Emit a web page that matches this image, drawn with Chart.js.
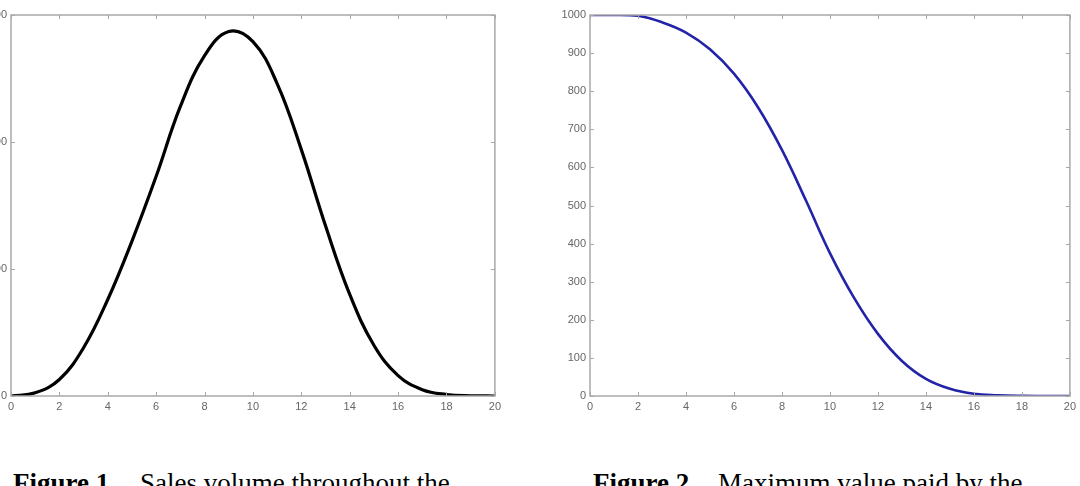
<!DOCTYPE html>
<html>
<head>
<meta charset="utf-8">
<script src="https://cdn.jsdelivr.net/npm/chart.js@4.4.1/dist/chart.umd.min.js"></script>
<style>
  html, body { margin:0; padding:0; background:#fff; width:1080px; height:486px; overflow:hidden; position:relative; }
  canvas { position:absolute; top:0; }
  .cap { position:absolute; font-family:"Liberation Serif","Times New Roman",serif; font-size:27px; line-height:30px; color:#000; white-space:pre; }
  .cap b { font-weight:bold; }
</style>
</head>
<body>
<canvas id="c1" width="545" height="425" style="left:-40px"></canvas>
<canvas id="c2" width="540" height="425" style="left:540px"></canvas>
<div class="cap" style="left:13px; top:468px;"><b>Figure 1</b></div>
<div class="cap" style="left:140px; top:468px;">Sales volume throughout the</div>
<div class="cap" style="left:593px; top:468px;"><b>Figure 2</b></div>
<div class="cap" style="left:718px; top:468px;">Maximum value paid by the</div>
<script>
// ---- data ----
const xValues = [0,1,2,3,4,5,6,7,8,9,10,11,12,13,14,15,16,17,18,19,20];
const salesVolume = [0,2.5,13,38,76,122,173,228,268,287,279,246,194,134,80,40,16,5,1.2,0.2,0];
const maxValuePaid = [1000,1000,998,981,954,910,846,758,646,513,375,258,163,92,45,19,6,2,0.5,0,0];
const xTicks = [0,2,4,6,8,10,12,14,16,18,20];
const yTicksLeft = [0,100,200,300];
const yTicksRight = [0,100,200,300,400,500,600,700,800,900,1000];

const FRAME = '#a9a9a9';
const LABEL = '#666';

const framePlugin = {
  id: 'matlabFrame',
  afterDraw(chart) {
    const ctx = chart.ctx, a = chart.chartArea;
    const xs = chart.scales.x, ys = chart.scales.y;
    ctx.save();
    ctx.strokeStyle = FRAME;
    ctx.lineWidth = 1.5;
    ctx.strokeRect(a.left, a.top, a.right - a.left, a.bottom - a.top);
    ctx.lineWidth = 1;
    const L = 4;
    ctx.beginPath();
    xs.ticks.forEach(t => {
      const p = Math.round(xs.getPixelForValue(t.value)) + 0.5;
      ctx.moveTo(p, a.bottom); ctx.lineTo(p, a.bottom - L);
      ctx.moveTo(p, a.top); ctx.lineTo(p, a.top + L);
    });
    ys.ticks.forEach(t => {
      const p = Math.round(ys.getPixelForValue(t.value)) + 0.5;
      ctx.moveTo(a.left, p); ctx.lineTo(a.left + L, p);
      ctx.moveTo(a.right, p); ctx.lineTo(a.right - L, p);
    });
    ctx.stroke();
    ctx.restore();
  }
};

function makeChart(id, values, color, width, yTicks, yMax, yAxisWidth, padRight) {
  const pts = xValues.map((x, i) => ({x, y: values[i]}));
  return new Chart(document.getElementById(id), {
    type: 'line',
    data: { datasets: [{ data: pts, borderColor: color, borderWidth: width, pointRadius: 0, fill: false, tension: 0.4, cubicInterpolationMode: 'default' }] },
    options: {
      responsive: false, animation: false, devicePixelRatio: 1,
      layout: { padding: { top: 15, right: padRight, left: 0, bottom: 0 } },
      plugins: { legend: { display: false }, tooltip: { enabled: false } },
      scales: {
        x: {
          type: 'linear', min: 0, max: 20,
          grid: { display: false, drawTicks: false, tickLength: 0 }, border: { display: false },
          afterBuildTicks: s => { s.ticks = xTicks.map(v => ({value: v})); },
          afterFit: s => { s.height = 29; },
          ticks: { color: LABEL, padding: 4, font: { family: 'Liberation Sans, Arial', size: 11 }, maxRotation: 0, autoSkip: false, callback: v => String(v) }
        },
        y: {
          type: 'linear', min: 0, max: yMax,
          grid: { display: false, drawTicks: false, tickLength: 0 }, border: { display: false },
          afterBuildTicks: s => { s.ticks = yTicks.map(v => ({value: v})); },
          afterFit: s => { s.width = yAxisWidth; },
          ticks: { color: LABEL, padding: 4, font: { family: 'Liberation Sans, Arial', size: 11 }, autoSkip: false, callback: v => String(v) }
        }
      }
    },
    plugins: [framePlugin]
  });
}

makeChart('c1', salesVolume, '#000000', 3.2, yTicksLeft, 300, 51, 9);
makeChart('c2', maxValuePaid, '#2323a8', 2.6, yTicksRight, 1000, 50, 10);
</script>
</body>
</html>
